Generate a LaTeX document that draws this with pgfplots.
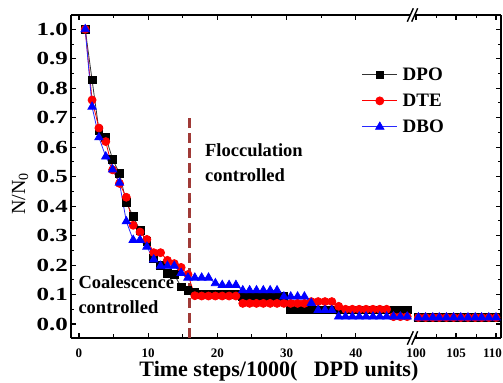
\documentclass[border=0pt]{standalone}
\usepackage{fontspec}
\setmainfont{Liberation Serif}
\usepackage{graphicx}
\usepackage{pgfplots}
\pgfplotsset{compat=1.18}
\usepackage{pgfplotstable}

\definecolor{dashc}{RGB}{160,58,55}
\definecolor{dbo}{RGB}{40,40,255}
\newcommand\ysc[1]{\scalebox{1.35}[1]{#1}}

\pgfplotstableread{
x dpo dte dbo
0.9 1.0 1.0 1.0
1.89 0.828 0.76 0.737
2.88 0.658 0.665 0.633
3.87 0.634 0.619 0.568
4.86 0.559 0.523 0.524
5.85 0.511 0.477 0.479
6.84 0.412 0.43 0.348
7.83 0.365 0.335 0.285
8.82 0.317 0.312 0.285
9.81 0.28 0.287 0.262
10.8 0.223 0.242 0.219
11.79 0.2 0.242 0.197
12.78 0.172 0.216 0.197
13.77 0.168 0.205 0.197
14.76 0.126 0.192 0.173
15.75 0.115 0.168 0.157
16.74 0.107 0.096 0.157
17.73 0.1 0.095 0.157
18.72 0.1 0.095 0.157
19.71 0.1 0.095 0.138
20.7 0.1 0.095 0.132
21.69 0.1 0.095 0.132
22.68 0.1 0.095 0.132
23.67 0.094 0.07 0.114
24.66 0.094 0.07 0.114
25.65 0.094 0.07 0.114
26.64 0.094 0.07 0.114
27.63 0.094 0.07 0.114
28.62 0.094 0.07 0.114
29.61 0.094 0.07 0.093
30.6 0.048 0.07 0.093
31.59 0.048 0.07 0.093
32.58 0.048 0.07 0.093
33.57 0.048 0.076 0.071
34.56 0.048 0.076 0.047
35.55 0.048 0.076 0.047
36.54 0.048 0.076 0.047
37.53 0.048 0.06 0.025
38.52 0.048 0.05 0.025
39.51 0.048 0.05 0.025
40.5 0.048 0.05 0.025
41.49 0.048 0.05 0.025
42.48 0.048 0.05 0.025
43.47 0.048 0.05 0.025
44.46 0.048 0.05 0.025
45.45 0.048 0.025 0.025
46.44 0.048 0.025 0.025
47.43 0.048 0.025 0.025
}\segA

\pgfplotstableread{
x dpo dte dbo
100.3 0.022 0.022 0.022
101.2 0.022 0.022 0.022
102.1 0.022 0.022 0.022
102.9 0.022 0.022 0.022
103.8 0.022 0.022 0.022
104.7 0.022 0.022 0.022
105.6 0.022 0.022 0.022
106.5 0.022 0.022 0.022
107.4 0.022 0.022 0.022
108.2 0.022 0.022 0.022
109.1 0.022 0.022 0.022
110.0 0.022 0.022 0.022
}\segB

\pgfplotsset{
  common/.style={
    scale only axis, height=323bp,
    ymin=-0.0475, ymax=1.0485,
    ytick={0,0.1,0.2,0.3,0.4,0.5,0.6,0.7,0.8,0.9,1.0},
    minor y tick num=1,
    minor x tick num=1,
    tick align=inside,
    major tick length=5bp, minor tick length=3.5bp,
    major tick style={black, line width=1.1bp},
    minor tick style={black, line width=1bp},
    axis line style={line width=1.5bp, -},
    axis x line=box,
    xticklabel style={font=\fontsize{13bp}{15bp}\selectfont\bfseries, inner sep=0pt, anchor=north, yshift=-11bp},
    yticklabel style={font=\fontsize{18.5bp}{20bp}\selectfont\bfseries, inner sep=0pt, anchor=east, xshift=-3bp},
    clip=false,
  },
  dpo/.style={draw=black!80, line width=0.8bp, mark=square*, mark size=3.9bp, mark options={solid, fill=black, draw=black}},
  dte/.style={draw=red, line width=0.8bp, mark=*, mark size=4bp, mark options={solid, fill=red, draw=red}},
  dbo/.style={draw=dbo, line width=0.8bp, mark=triangle*, mark size=4.8bp, mark options={solid, fill=blue, draw=blue}},
}
\newcommand\annfont{\fontsize{18.5bp}{21bp}\selectfont\bfseries}

\begin{document}
\begin{tikzpicture}
\path[use as bounding box] (-71bp,-45bp) rectangle (432bp,338bp);

\begin{axis}[common,
  at={(0bp,0bp)}, anchor=south west, width=342bp,
  xmin=-1.156, xmax=48.27,
  axis y line*=left, ytick pos=left,
  xtick={0,10,20,30,40}, xticklabels={0,10,20,30,40},
  yticklabels={\ysc{0.0},\ysc{0.1},\ysc{0.2},\ysc{0.3},\ysc{0.4},\ysc{0.5},\ysc{0.6},\ysc{0.7},\ysc{0.8},\ysc{0.9},\ysc{1.0}},
  xlabel={Time steps/1000(\ \ \ DPD units)},
  xlabel style={font=\fontsize{22bp}{24bp}\selectfont\bfseries, at={(axis description cs:0.608,-0.1207)}, anchor=base, inner sep=0pt},
  ylabel={N/N\textsubscript{0}},
  ylabel style={font=\fontsize{20bp}{22bp}\selectfont, at={(axis description cs:-0.149,0.446)}, anchor=center, inner sep=0pt},
  legend style={draw=none, fill=none, at={(axis description cs:0.85,0.837)}, anchor=north west,
    font=\fontsize{19bp}{22bp}\selectfont\bfseries, row sep=12bp, column sep=5bp, inner sep=0pt, nodes={inner sep=0pt}},
  legend cell align=left,
  legend image code/.code={\draw[mark repeat=2,mark phase=2] plot coordinates {(0bp,0bp) (17.5bp,0bp) (35bp,0bp)};},
]
\addplot[dpo] table[x=x,y=dpo]{\segA};
\addlegendentry{DPO}
\addplot[dte] table[x=x,y=dte]{\segA};
\addlegendentry{DTE}
\addplot[dbo] table[x=x,y=dbo]{\segA};
\addlegendentry{DBO}
\addplot[dashc, line width=2.6bp, dash pattern=on 10bp off 5bp, forget plot] coordinates {(16,-0.0475) (16,0.715)};
\node[anchor=base west, inner sep=0pt, font=\annfont] at (axis cs:18.2,0.568) {Flocculation};
\node[anchor=base west, inner sep=0pt, font=\annfont] at (axis cs:18.2,0.483) {controlled};
\node[anchor=base west, inner sep=0pt, font=\annfont] at (axis cs:-0.1,0.121) {Coalescence};
\node[anchor=base west, inner sep=0pt, font=\annfont] at (axis cs:-0.1,0.036) {controlled};
\end{axis}

\begin{axis}[common,
  at={(342bp,0bp)}, anchor=south west, width=88bp,
  xmin=99.625, xmax=110.625,
  axis y line*=right, ytick pos=right, yticklabels={},
  xtick={100,105,110}, xticklabels={100,105,110\hspace*{7bp}},
]
\addplot[dpo] table[x=x,y=dpo]{\segB};
\addplot[dte] table[x=x,y=dte]{\segB};
\addplot[dbo] table[x=x,y=dbo]{\segB};
\end{axis}

% axis break marks
\foreach \yy in {0bp,323bp}{
  \fill[white] (336.3bp,\yy-6.7bp) -- (340.7bp,\yy-6.7bp) -- (346.7bp,\yy+6.7bp) -- (342.3bp,\yy+6.7bp) -- cycle;
  \draw[line width=1.4bp] (336.3bp,\yy-6.7bp) -- (342.3bp,\yy+6.7bp);
  \draw[line width=1.4bp] (340.7bp,\yy-6.7bp) -- (346.7bp,\yy+6.7bp);
}
\end{tikzpicture}
\end{document}
